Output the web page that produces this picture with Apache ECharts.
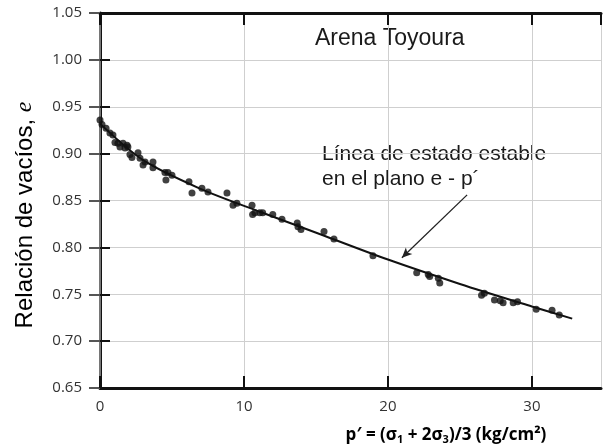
<!DOCTYPE html>
<html>
<head>
<meta charset="utf-8">
<script src="https://cdn.jsdelivr.net/npm/echarts@6/dist/echarts.min.js"></script>
<style>html,body{margin:0;padding:0;background:#fff}#c{width:603px;height:448px}</style>
</head>
<body>
<div id="c"></div>
<script>
// Measured points: mean effective stress p' (kg/cm2) and void ratio e
const pValues = [0, 0.14, 0.42, 0.69, 0.9, 1.04, 1.25, 1.39, 1.6, 1.88, 1.94, 1.74, 2.08, 2.22, 2.64, 2.78, 2.99, 3.13, 3.68, 3.68, 4.51, 4.72, 4.58, 5.0, 6.18, 6.39, 7.08, 7.5, 8.82, 9.24, 9.51,
  10.56, 10.6, 10.76, 11.1, 11.3, 12.0, 12.64, 13.7, 13.75, 13.96, 15.56, 16.25, 18.96,
  22.0, 22.8, 22.9, 23.5, 23.6, 26.5, 26.7, 27.4, 27.8, 28.0, 28.7, 29.0, 30.3, 31.4, 31.9];
const eValues = [0.936, 0.931, 0.927, 0.922, 0.920, 0.912, 0.911, 0.907, 0.911, 0.909, 0.907, 0.906, 0.899, 0.896, 0.901, 0.895, 0.888, 0.891, 0.891, 0.885, 0.880, 0.880, 0.872, 0.877, 0.870, 0.858, 0.863, 0.859, 0.858, 0.845, 0.847,
  0.845, 0.835, 0.837, 0.837, 0.837, 0.835, 0.830, 0.826, 0.822, 0.819, 0.817, 0.809, 0.791,
  0.773, 0.771, 0.769, 0.767, 0.762, 0.749, 0.751, 0.744, 0.743, 0.741, 0.741, 0.742, 0.734, 0.733, 0.728];
// Steady state line in the e - p' plane
const lineP = [0, 3, 6.9, 11.1, 15.3, 20, 25, 30, 32.8];
const lineE = [0.932, 0.893, 0.863, 0.838, 0.814, 0.787, 0.761, 0.737, 0.724];
// Axis ticks
const xTicks = [0, 10, 20, 30];
const yTicks = [0.65, 0.70, 0.75, 0.80, 0.85, 0.90, 0.95, 1.00, 1.05];
// Annotation arrow (tail -> head) in data coords
const arrowTail = [25.5, 0.856];
const arrowHead = [20.97, 0.789];

const xMin = 0, xMax = 34.8, yMin = 0.65, yMax = 1.05;
const pts = pValues.map((p, i) => [p, eValues[i]]);
const linePts = lineP.map((p, i) => [p, lineE[i]]);

const chart = echarts.init(document.getElementById('c'), null, {renderer: 'canvas'});
const tickFmtX = v => xTicks.indexOf(Math.round(v * 1000) / 1000) >= 0 ? String(Math.round(v)) : '';
const tickFmtY = v => yTicks.some(t => Math.abs(t - v) < 1e-6) ? v.toFixed(2) : '';

chart.setOption({
  animation: false,
  backgroundColor: '#fff',
  grid: {left: 100, right: 2, top: 13, bottom: 60},
  xAxis: [{
    type: 'value', min: xMin, max: xMax, interval: 10,
    axisLine: {lineStyle: {color: '#111', width: 3}},
    axisTick: {inside: true, length: 12, lineStyle: {color: '#111', width: 2}},
    axisLabel: {formatter: tickFmtX, showMaxLabel: false, fontSize: 15, color: '#333', margin: 11, fontFamily: 'Open Sans'},
    splitLine: {show: true, lineStyle: {color: '#cfcfcf', width: 1}}
  }, {
    type: 'value', position: 'top', min: xMin, max: xMax, interval: 10,
    axisLine: {show: true, lineStyle: {color: '#111', width: 3}},
    axisTick: {show: true, inside: true, length: 12, lineStyle: {color: '#111', width: 2}},
    axisLabel: {show: false}, splitLine: {show: false}
  }],
  yAxis: [{
    type: 'value', min: yMin, max: yMax, interval: 0.05,
    axisLine: {show: true, lineStyle: {color: '#111', width: 3}},
    axisTick: {show: true, inside: true, length: 10, lineStyle: {color: '#111', width: 2}},
    axisLabel: {formatter: tickFmtY, fontSize: 15, color: '#333', margin: 18, fontFamily: 'Open Sans'},
    splitLine: {show: true, lineStyle: {color: '#cfcfcf', width: 1}}
  }, {
    type: 'value', position: 'right', min: yMin, max: yMax, interval: 0.05,
    axisLine: {show: true, lineStyle: {color: '#999', width: 1.5}},
    axisTick: {show: true, inside: true, length: 11, lineStyle: {color: '#555', width: 2}},
    axisLabel: {show: false}, splitLine: {show: false}
  }],
  series: [{
    type: 'line', data: linePts, symbol: 'none', smooth: 0.3,
    lineStyle: {color: '#111', width: 2}, z: 3,
    markLine: {
      silent: true, symbol: ['none', 'arrow'], symbolSize: [7, 10],
      lineStyle: {color: '#222', width: 1.3, type: 'solid'},
      label: {show: false},
      data: [[{coord: arrowTail}, {coord: arrowHead}]]
    }
  }, {
    type: 'scatter', data: pts, symbol: 'circle', symbolSize: 7,
    itemStyle: {color: '#111'}, z: 4
  }],
  graphic: [{
    type: 'text', x: 315, y: 39,
    style: {text: 'Arena Toyoura', font: '23px "Liberation Sans"', fill: '#1a1a1a', textVerticalAlign: 'middle'}
  }, {
    type: 'text', x: 322, y: 154,
    style: {text: 'Línea de estado estable', font: '21px "Liberation Sans"', fill: '#1a1a1a', textVerticalAlign: 'middle'}
  }, {
    type: 'text', x: 322, y: 179,
    style: {text: 'en el plano e - p´', font: '21px "Liberation Sans"', fill: '#1a1a1a', textVerticalAlign: 'middle'}
  }, {
    type: 'text', x: 25, y: 215, rotation: Math.PI / 2,
    style: {
      text: '{a|Relación de vacíos, }{b|e}',
      textAlign: 'center', textVerticalAlign: 'middle',
      rich: {
        a: {fontSize: 24, fontFamily: 'Liberation Sans', color: '#222'},
        b: {fontSize: 24, fontFamily: 'Liberation Serif', fontStyle: 'italic', color: '#222'}
      }
    }
  }, {
    type: 'text', x: 446, y: 435,
    style: {
      text: '{m|p′ = (σ}{s|1}{m| + 2σ}{s|3}{m|)/3 (kg/cm²)}',
      textAlign: 'center', textVerticalAlign: 'middle',
      rich: {
        m: {fontSize: 17, fontWeight: 'bold', fontFamily: 'Open Sans', color: '#111'},
        s: {fontSize: 11, fontWeight: 'bold', fontFamily: 'Open Sans', color: '#111', padding: [9, 0, 0, 0]}
      }
    }
  }]
});
</script>
</body>
</html>
